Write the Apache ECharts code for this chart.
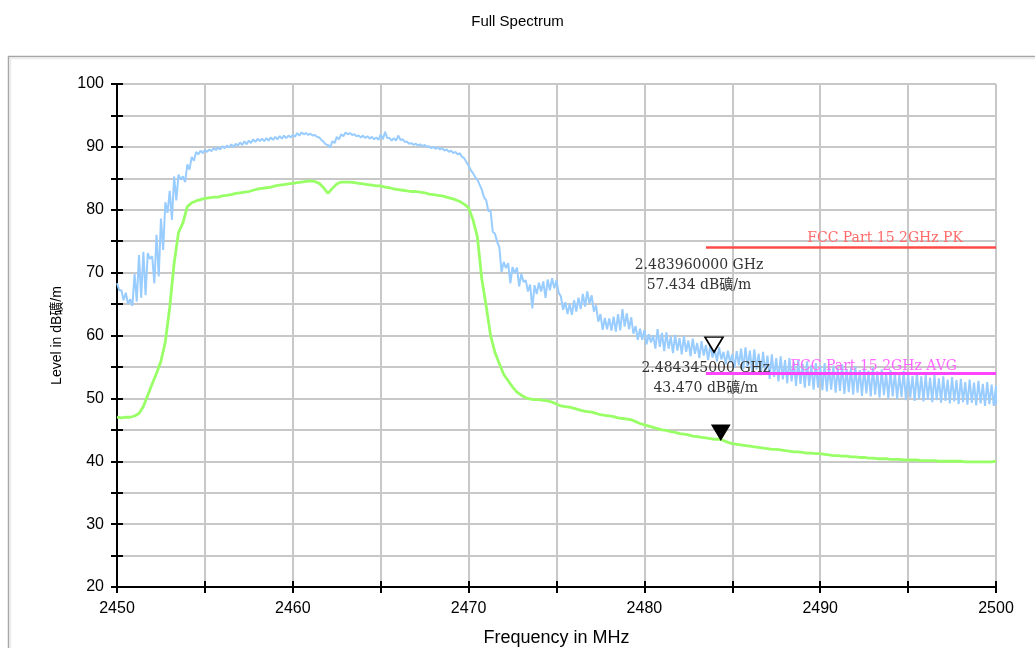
<!DOCTYPE html>
<html><head><meta charset="utf-8">
<script src="https://cdn.jsdelivr.net/npm/echarts@6/dist/echarts.min.js"></script>
<style>html,body{margin:0;padding:0;background:#fff}#c{width:1035px;height:648px}</style>
</head><body><div id="c"></div>
<script>
// ---- data (frequency grid: 2450 .. 2500 MHz, 0.25 MHz per sample) ----
const freqStart = 2450;
const freqStep = 0.25;

// AVG detector trace (green), dBuV/m
const avgTrace = [
  47.0, 46.9, 47.0, 47.0, 47.2, 47.6, 48.7, 50.5,
  52.3, 54.0, 55.9, 59.0, 64.5, 71.5, 76.4, 77.9,
  80.5, 81.1, 81.4, 81.6, 81.8, 81.9, 82.0, 82.0,
  82.2, 82.3, 82.4, 82.6, 82.7, 82.8, 82.9, 83.1,
  83.3, 83.4, 83.5, 83.6, 83.8, 83.9, 84.0, 84.1,
  84.2, 84.3, 84.4, 84.5, 84.6, 84.5, 84.2, 83.5,
  82.6, 83.4, 84.1, 84.4, 84.4, 84.4, 84.3, 84.2,
  84.1, 84.0, 83.9, 83.8, 83.8, 83.6, 83.5, 83.3,
  83.2, 83.1, 83.0, 82.9, 82.9, 82.8, 82.7, 82.5,
  82.4, 82.3, 82.2, 82.0, 81.8, 81.6, 81.3, 80.9,
  80.3, 78.4, 75.7, 69.0, 64.7, 60.0, 57.3, 55.5,
  53.8, 52.8, 51.8, 51.0, 50.5, 50.1, 49.9, 49.8,
  49.8, 49.7, 49.6, 49.4, 49.1, 48.8, 48.7, 48.6,
  48.4, 48.2, 48.0, 47.9, 47.8, 47.6, 47.4, 47.3,
  47.2, 47.1, 46.9, 46.8, 46.7, 46.6, 46.3, 46.0,
  45.8, 45.6, 45.4, 45.2, 45.0, 44.9, 44.7, 44.6,
  44.4, 44.3, 44.2, 44.0, 43.9, 43.8, 43.7, 43.6,
  43.5, 43.5, 43.3, 43.0, 42.8, 42.7, 42.6, 42.5,
  42.4, 42.3, 42.2, 42.1, 42.0, 41.9, 41.9, 41.8,
  41.7, 41.6, 41.5, 41.5, 41.4, 41.3, 41.3, 41.2,
  41.2, 41.1, 41.0, 40.9, 40.9, 40.8, 40.8, 40.7,
  40.7, 40.6, 40.6, 40.5, 40.5, 40.4, 40.4, 40.4,
  40.3, 40.3, 40.3, 40.2, 40.2, 40.2, 40.2, 40.1,
  40.1, 40.1, 40.1, 40.0, 40.0, 40.0, 40.0, 40.0,
  40.0, 39.9, 39.9, 39.9, 39.9, 39.9, 39.9, 39.9,
  40.0
];

// PK detector trace (blue): max and min of each display bin
const pkHigh = [
  68.3, 67.2, 66.8, 65.8, 69.8, 72.8, 73.3, 73.1,
  72.6, 76.0, 78.6, 81.2, 83.0, 85.3, 85.6, 85.3,
  87.2, 88.4, 89.2, 89.4, 89.5, 89.6, 89.8, 89.9,
  90.1, 90.2, 90.4, 90.5, 90.7, 90.9, 91.0, 91.2,
  91.3, 91.3, 91.4, 91.5, 91.6, 91.7, 91.8, 91.8,
  91.9, 92.2, 92.3, 92.2, 92.1, 91.9, 91.5, 90.8,
  90.3, 90.9, 91.6, 92.0, 92.3, 92.2, 92.0, 91.8,
  91.8, 91.7, 91.6, 91.5, 92.0, 92.4, 91.4, 91.4,
  91.8, 91.2, 90.8, 90.6, 90.5, 90.4, 90.3, 90.1,
  90.0, 89.9, 89.8, 89.6, 89.4, 89.2, 89.0, 88.2,
  87.0, 85.8, 84.8, 83.2, 81.5, 79.8, 76.2, 74.0,
  71.7, 71.5, 70.9, 70.8, 69.8, 68.8, 68.1, 68.0,
  68.4, 68.6, 68.9, 69.1, 68.8, 66.2, 65.3, 65.0,
  65.6, 66.0, 66.6, 67.0, 66.4, 64.8, 63.4, 62.8,
  62.7, 63.0, 63.4, 64.2, 63.5, 62.9, 61.5, 61.1,
  60.9, 60.2, 60.0, 61.0, 60.4, 60.5, 59.8, 60.1,
  59.6, 59.9, 59.2, 59.5, 58.8, 59.1, 58.5, 58.6,
  57.9, 58.1, 57.4, 57.6, 57.0, 57.5, 57.9, 58.1,
  57.6, 57.8, 57.1, 57.4, 56.8, 57.0, 56.4, 56.7,
  56.1, 56.4, 55.8, 56.1, 55.5, 55.9, 55.3, 55.6,
  55.3, 55.6, 55.0, 55.2, 54.8, 55.4, 54.7, 54.9,
  55.1, 54.5, 54.8, 54.4, 54.9, 54.3, 54.6, 54.0,
  54.5, 54.2, 53.8, 54.4, 53.9, 53.6, 54.1, 53.5,
  53.8, 53.3, 53.7, 53.2, 53.5, 53.0, 53.4, 52.9,
  53.1, 52.6, 53.0, 52.5, 52.8, 52.3, 52.6, 52.2,
  52.0
];
const pkLow = [
  67.2, 65.6, 65.0, 64.7, 65.4, 66.0, 66.4, 72.2,
  68.3, 69.4, 73.6, 79.5, 78.4, 81.5, 84.8, 84.4,
  86.4, 87.8, 88.8, 89.0, 89.2, 89.3, 89.5, 89.6,
  89.8, 89.9, 90.0, 90.2, 90.3, 90.4, 90.6, 90.8,
  90.9, 90.9, 91.0, 91.1, 91.2, 91.3, 91.4, 91.5,
  91.6, 91.8, 92.0, 91.9, 91.8, 91.6, 91.1, 90.4,
  89.9, 90.6, 91.2, 91.7, 92.0, 91.9, 91.7, 91.5,
  91.4, 91.3, 91.2, 91.1, 91.2, 91.4, 91.0, 91.0,
  91.1, 90.8, 90.5, 90.3, 90.2, 90.1, 90.0, 89.8,
  89.7, 89.6, 89.4, 89.2, 89.0, 88.8, 88.4, 87.6,
  86.3, 85.2, 84.0, 82.0, 79.8, 76.5, 74.9, 70.1,
  70.7, 68.3, 69.9, 67.8, 68.5, 67.0, 64.3, 66.6,
  67.0, 66.0, 67.2, 67.5, 66.8, 64.1, 63.4, 63.3,
  63.8, 64.2, 64.6, 65.1, 63.8, 62.2, 60.9, 61.0,
  60.8, 60.6, 60.8, 61.4, 61.0, 60.3, 59.3, 59.3,
  58.6, 58.9, 57.9, 58.2, 57.5, 57.9, 57.2, 57.6,
  57.0, 57.4, 56.7, 57.1, 56.4, 56.8, 56.1, 56.5,
  55.9, 56.2, 55.4, 55.7, 54.9, 55.3, 54.6, 54.9,
  54.3, 54.6, 53.7, 54.0, 53.1, 53.4, 52.7, 53.0,
  52.4, 52.7, 52.0, 52.3, 51.7, 52.0, 51.4, 51.7,
  51.3, 51.1, 51.4, 50.9, 51.2, 50.7, 51.0, 50.6,
  50.9, 50.4, 50.8, 50.3, 50.6, 50.1, 50.5, 50.0,
  50.3, 49.9, 50.2, 49.7, 50.1, 49.6, 49.9, 49.5,
  49.8, 49.4, 49.7, 49.3, 49.6, 49.2, 49.5, 49.1,
  49.4, 49.0, 49.3, 48.9, 49.2, 48.8, 49.1, 48.8,
  49.0
];

// limit lines
const limitNames = ['FCC Part 15 2GHz PK', 'FCC Part 15 2GHz AVG'];
const limitStart = 2483.5;
const limitEnd = 2500;
const limitLevels = [74, 54];

// markers
const markerFreqs = [2483.96, 2484.345];
const markerLevels = [57.434, 43.47];
const markerFreqText = ['2.483960000 GHz', '2.484345000 GHz'];
const markerLevelText = ['57.434 dB礦/m', '43.470 dB礦/m'];

// axes
const xMin = 2450, xMax = 2500, xStep = 5;
const yMin = 20, yMax = 100, yStep = 5;
const titleText = 'Full Spectrum';
const xName = 'Frequency in MHz';
const yName = 'Level in dB礦/m';

// ---- build series data ----
const avgData = avgTrace.map((v, i) => [freqStart + i * freqStep, v]);
const pkData = [];
pkHigh.forEach((h, i) => {
  const f = freqStart + i * freqStep;
  pkData.push([f, h]);
  if (i < pkHigh.length - 1) pkData.push([f + freqStep / 2, pkLow[i]]);
  else pkData.push([f, pkLow[i]]);
});

const serif = "'DejaVu Serif', 'Noto Sans CJK SC', serif";
const sans = "'Liberation Sans', Arial, 'Noto Sans CJK SC', sans-serif";

function markerPoint(idx, filled, dy) {
  return {
    symbol: 'triangle',
    symbolRotate: 180,
    symbolSize: [18, 15],
    symbolOffset: [0, -7],
    itemStyle: filled ? { color: '#000', borderColor: '#000', borderWidth: 1 }
                      : { color: '#fff', borderColor: '#000', borderWidth: 1.6 },
    label: {
      show: true,
      position: 'top',
      distance: 0,
      offset: [-15, dy],
      formatter: markerFreqText[idx] + '\n' + markerLevelText[idx],
      fontFamily: serif,
      fontSize: 14,
      lineHeight: 20,
      color: '#333',
      align: 'center'
    },
    data: [{ coord: [markerFreqs[idx], markerLevels[idx]] }]
  };
}

function limitLine(idx, color, textColor, width, dist) {
  return {
    silent: true,
    symbol: 'none',
    lineStyle: { color: color, width: width, type: 'solid' },
    label: {
      show: true,
      position: 'insideEndTop',
      distance: dist,
      formatter: limitNames[idx],
      fontFamily: serif,
      fontSize: 14,
      color: textColor
    },
    emphasis: { disabled: true },
    data: [[{ coord: [limitStart, limitLevels[idx]] }, { coord: [limitEnd, limitLevels[idx]] }]]
  };
}

const chart = echarts.init(document.getElementById('c'), null, { renderer: 'canvas' });
chart.setOption({
  animation: false,
  backgroundColor: '#fff',
  title: {
    text: titleText, left: 'center', top: 9,
    textStyle: { fontFamily: sans, fontSize: 15, fontWeight: 'normal', color: '#000' }
  },
  graphic: [
    { type: 'rect', silent: true, shape: { x: 8.5, y: 56.5, width: 1040, height: 620 },
      style: { fill: 'none', stroke: '#a6a6a6', lineWidth: 1.5 }, z: -1 },
    { type: 'rect', silent: true, shape: { x: 10.5, y: 58.5, width: 1040, height: 620 },
      style: { fill: 'none', stroke: '#ececec', lineWidth: 1.5 }, z: -1 }
  ],
  grid: { left: 117, top: 84, right: 39, bottom: 61, containLabel: false, outerBoundsMode: 'none' },
  xAxis: [
    {
      type: 'value', min: xMin, max: xMax, interval: xStep, position: 'bottom',
      name: xName, nameLocation: 'middle', nameGap: 42,
      nameTextStyle: { fontFamily: sans, fontSize: 18, color: '#000' },
      axisLine: { show: true, onZero: false, lineStyle: { color: '#000', width: 2 } },
      axisTick: { show: true, inside: false, length: 6, lineStyle: { color: '#000', width: 2 } },
      axisLabel: { margin: 14, fontFamily: sans, fontSize: 16, color: '#000',
        formatter: v => (v % 10 === 0 ? String(v) : '') },
      splitLine: { show: true, lineStyle: { color: '#c8c8c8', width: 2 } }
    },
    {
      type: 'value', min: xMin, max: xMax, interval: xStep, position: 'bottom',
      axisLine: { show: false, onZero: false },
      axisTick: { show: true, inside: true, length: 6, lineStyle: { color: '#000', width: 2 } },
      axisLabel: { show: false },
      splitLine: { show: false }
    }
  ],
  yAxis: [
    {
      type: 'value', min: yMin, max: yMax, interval: yStep, position: 'left',
      name: yName, nameLocation: 'middle', nameGap: 53, nameRotate: 90,
      nameTextStyle: { fontFamily: sans, fontSize: 14, color: '#000' },
      axisLine: { show: true, onZero: false, lineStyle: { color: '#000', width: 2 } },
      axisTick: { show: true, inside: false, length: 6, lineStyle: { color: '#000', width: 2 } },
      axisLabel: { margin: 13, fontFamily: sans, fontSize: 16, color: '#000',
        formatter: v => (v % 10 === 0 ? String(v) : '') },
      splitLine: { show: true, lineStyle: { color: '#c8c8c8', width: 2 } }
    },
    {
      type: 'value', min: yMin, max: yMax, interval: yStep, position: 'left',
      axisLine: { show: false, onZero: false },
      axisTick: { show: true, inside: true, length: 6, lineStyle: { color: '#000', width: 2 } },
      axisLabel: { show: false },
      splitLine: { show: false }
    }
  ],
  series: [
    {
      name: 'PK', type: 'line', data: pkData, xAxisIndex: 0, yAxisIndex: 0,
      showSymbol: false, symbol: 'none', sampling: null,
      lineStyle: { color: '#99ccff', width: 2 },
      emphasis: { disabled: true }, z: 3,
      markPoint: markerPoint(0, false, -41)
    },
    {
      name: 'AVG', type: 'line', data: avgData, xAxisIndex: 0, yAxisIndex: 0,
      showSymbol: false, symbol: 'none',
      lineStyle: { color: '#99ff66', width: 2.8 },
      emphasis: { disabled: true }, z: 4,
      markPoint: markerPoint(1, true, -26)
    },
    {
      name: 'PK limit', type: 'line', data: [], xAxisIndex: 0, yAxisIndex: 0, z: 5,
      markLine: limitLine(0, '#ff4a4a', '#ff6a6a', 2.5, [33, 2])
    },
    {
      name: 'AVG limit', type: 'line', data: [], xAxisIndex: 0, yAxisIndex: 0, z: 5,
      markLine: limitLine(1, '#ff44ff', '#ff66ff', 3, [39, 0])
    }
  ]
});
</script>
</body></html>
